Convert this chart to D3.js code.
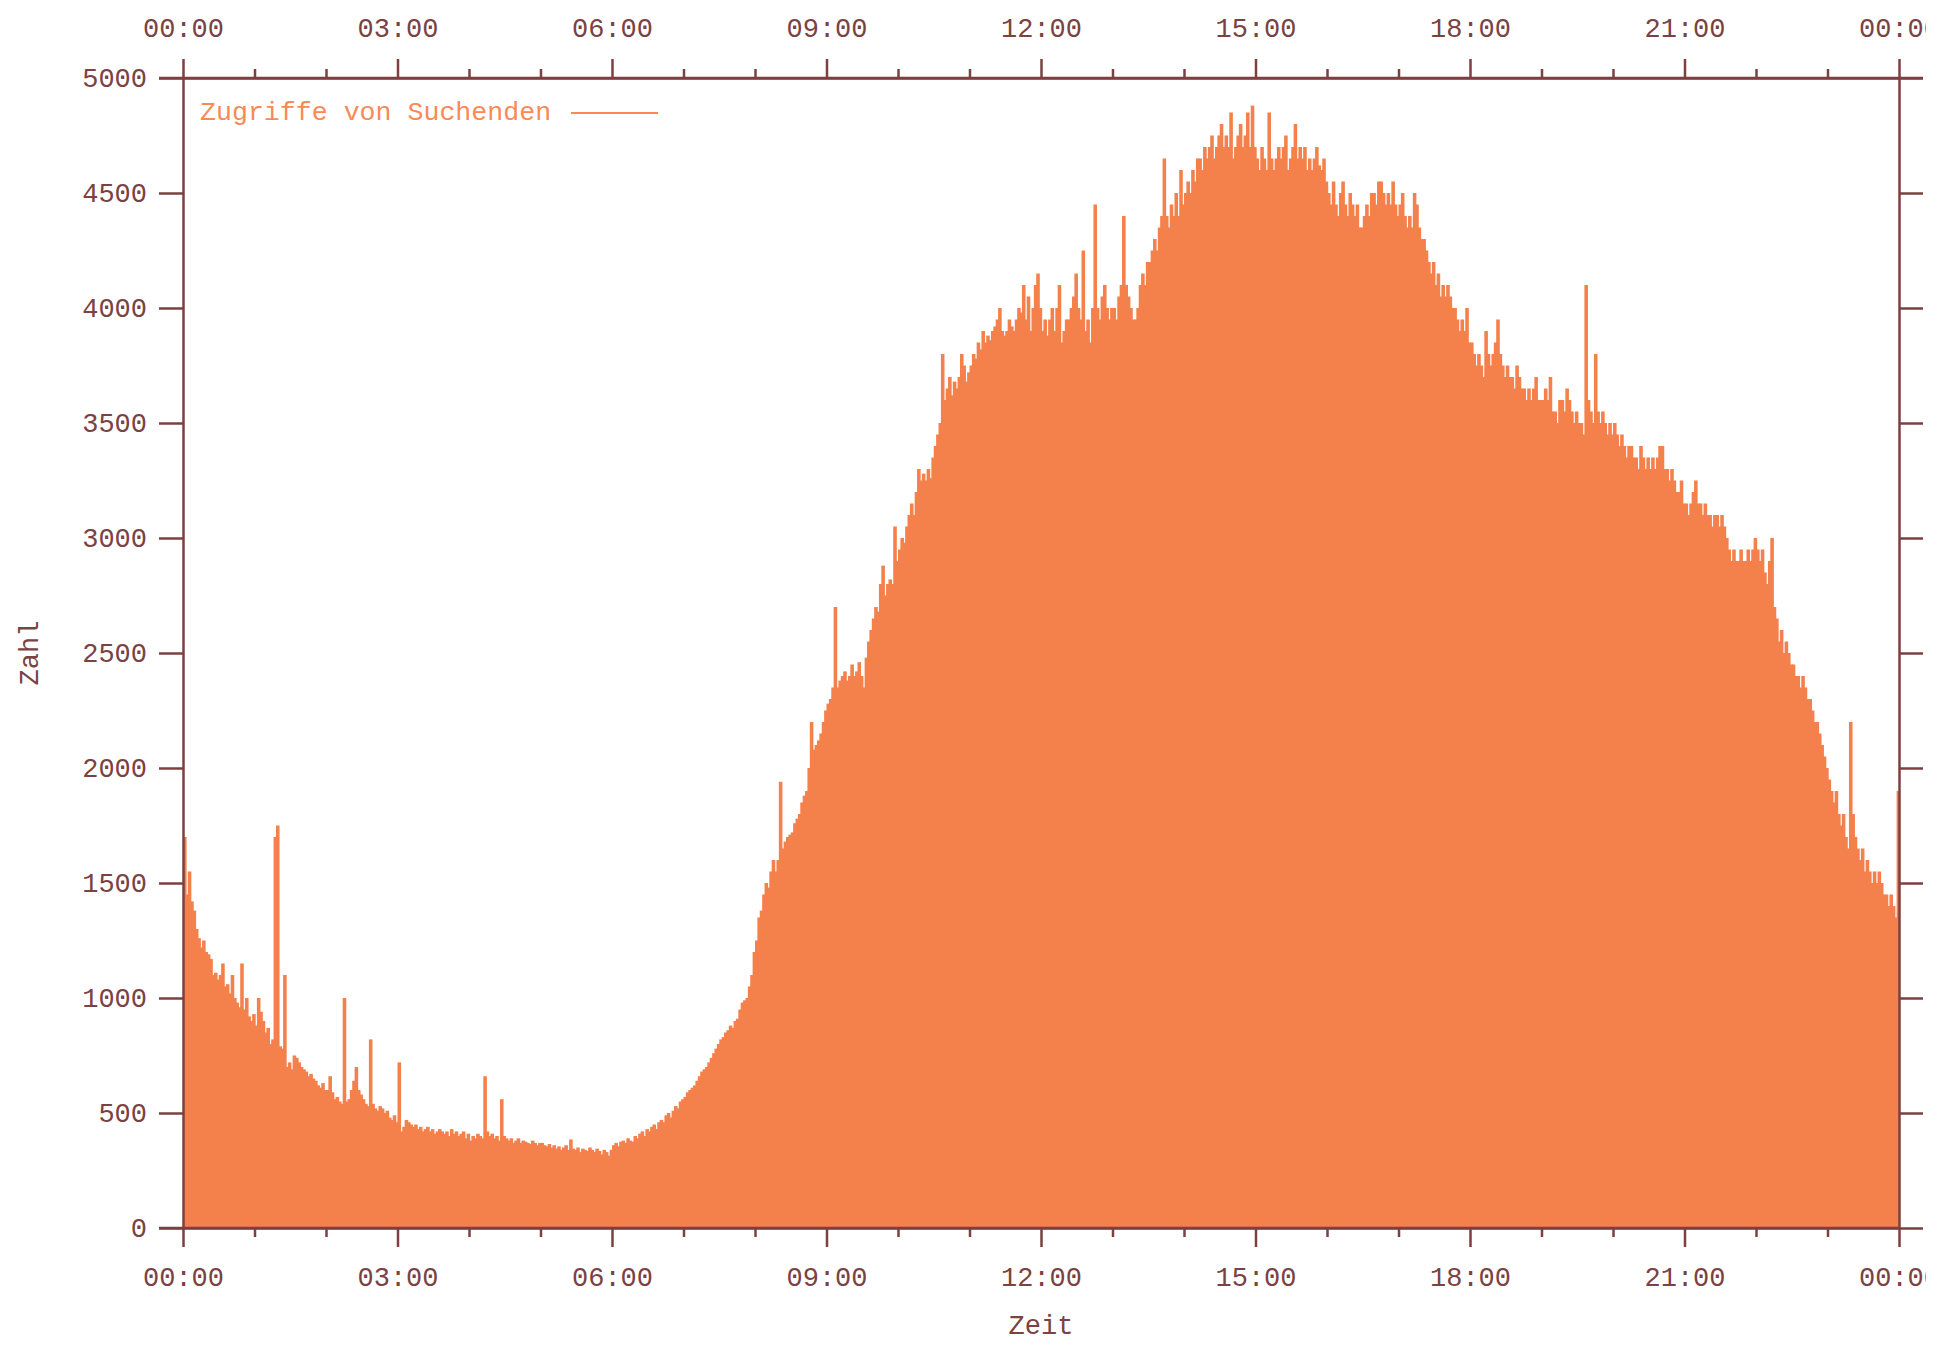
<!DOCTYPE html>
<html>
<head>
<meta charset="utf-8">
<script src="https://cdn.jsdelivr.net/npm/d3@7"></script>
<style>
  html, body { margin: 0; padding: 0; background: #ffffff; }
  svg { display: block; }
  text { font-family: "Liberation Mono", "DejaVu Sans Mono", monospace; }
</style>
</head>
<body>
<svg id="chart" width="1926" height="1350"></svg>
<script>
// ---- data: requests per 2-minute interval, one row per hour ----
const binMinutes = 2;
const hour00 = [1700,1450,1550,1420,1380,1300,1260,1220,1250,1200,1190,1170,1100,1110,1080,1100,1150,1050,1060,1020,1100,1000,980,960,1150,950,1000,920,900,930];
const hour01 = [880,1000,940,900,850,870,800,820,1700,1750,790,780,1100,700,720,690,750,740,720,700,690,680,660,670,650,640,620,610,630,600];
const hour02 = [600,660,590,560,570,550,540,1000,550,560,600,640,700,600,580,560,540,530,820,540,520,510,530,520,500,510,480,470,490,460];
const hour03 = [720,420,440,470,460,450,440,450,430,440,420,430,440,420,430,410,420,430,420,410,420,400,430,410,420,400,410,420,390,410];
const hour04 = [380,400,390,410,400,390,660,420,400,410,390,400,380,560,400,390,380,390,370,380,390,370,380,375,370,365,380,370,360,370];
const hour05 = [370,360,355,365,350,360,345,355,340,350,360,340,385,345,340,350,330,345,340,335,350,340,330,345,335,320,340,330,315,340];
const hour06 = [360,370,355,375,380,370,390,380,375,400,390,410,420,400,430,420,440,450,430,460,470,460,490,500,480,510,530,520,550,560];
const hour07 = [570,590,600,610,620,640,660,680,690,700,720,740,760,780,800,820,830,850,860,880,870,900,910,950,980,990,1000,1050,1100,1200];
const hour08 = [1250,1350,1380,1450,1500,1480,1550,1600,1550,1600,1940,1650,1680,1700,1710,1720,1760,1780,1800,1850,1880,1900,2000,2200,2080,2100,2120,2150,2200,2250];
const hour09 = [2280,2300,2350,2700,2350,2380,2400,2420,2380,2400,2450,2400,2420,2460,2400,2350,2480,2550,2600,2650,2700,2680,2800,2880,2750,2800,2820,2800,3050,2900];
const hour10 = [2950,3000,2980,3050,3100,3150,3100,3200,3300,3250,3280,3250,3300,3260,3350,3400,3450,3500,3800,3600,3650,3700,3620,3680,3650,3700,3800,3750,3680,3720];
const hour11 = [3750,3800,3780,3850,3820,3900,3850,3880,3860,3900,3920,3950,4000,3900,3880,3900,3950,3920,3900,3950,4000,3980,4100,3950,4050,3900,4000,4100,4150,4000];
const hour12 = [3900,3950,3880,3950,4000,3900,4000,4100,3850,3900,3950,3950,4000,4050,4150,4000,3950,4250,3900,3950,3850,4000,4450,4000,3950,4050,4100,4000,3950,4000];
const hour13 = [4000,3950,4050,4100,4400,4100,4050,4000,3950,3950,4000,4100,4150,4100,4200,4200,4250,4300,4250,4350,4400,4650,4400,4350,4450,4400,4500,4400,4600,4450];
const hour14 = [4500,4550,4500,4600,4550,4650,4650,4600,4700,4650,4700,4750,4650,4700,4750,4800,4700,4750,4700,4850,4650,4700,4750,4800,4700,4750,4850,4700,4880,4700];
const hour15 = [4650,4600,4700,4650,4600,4850,4650,4600,4650,4700,4650,4700,4750,4600,4650,4700,4800,4650,4700,4650,4700,4600,4650,4600,4650,4700,4620,4600,4650,4550];
const hour16 = [4500,4450,4550,4450,4400,4500,4550,4450,4400,4500,4450,4400,4450,4350,4350,4400,4450,4400,4500,4500,4450,4550,4550,4500,4450,4500,4450,4550,4450,4400];
const hour17 = [4450,4500,4400,4350,4400,4350,4500,4450,4350,4300,4300,4250,4200,4150,4200,4100,4150,4050,4100,4050,4100,4050,4000,4000,3950,3900,3950,3900,4000,3850];
const hour18 = [3850,3800,3750,3800,3750,3700,3900,3800,3750,3800,3850,3950,3800,3750,3700,3750,3700,3700,3650,3750,3700,3650,3650,3600,3650,3600,3650,3700,3600,3600];
const hour19 = [3600,3650,3600,3700,3550,3550,3500,3600,3600,3550,3650,3600,3550,3500,3550,3500,3500,3450,4100,3600,3550,3500,3800,3550,3500,3550,3500,3450,3500,3450];
const hour20 = [3500,3450,3400,3450,3400,3350,3400,3400,3350,3350,3300,3400,3350,3300,3350,3300,3350,3300,3350,3400,3400,3300,3300,3250,3300,3250,3200,3200,3250,3150];
const hour21 = [3150,3100,3150,3200,3250,3150,3150,3100,3150,3100,3100,3050,3100,3100,3050,3100,3050,3000,2950,2900,2950,2900,2900,2950,2900,2900,2950,2900,2950,3000];
const hour22 = [2950,2900,2950,2850,2800,2900,3000,2700,2650,2550,2600,2500,2550,2500,2450,2450,2400,2400,2350,2400,2350,2300,2300,2250,2200,2200,2150,2100,2050,2000];
const hour23 = [1950,1900,1850,1900,1800,1750,1800,1700,1650,2200,1800,1700,1650,1600,1650,1550,1600,1550,1500,1550,1500,1550,1500,1450,1450,1400,1450,1400,1350,1900];

const yTicks = [0,500,1000,1500,2000,2500,3000,3500,4000,4500,5000];
const xMajorHours = [0,3,6,9,12,15,18,21,24];
const xMinorHours = [1,2,4,5,7,8,10,11,13,14,16,17,19,20,22,23];
const seriesName = "Zugriffe von Suchenden";
const xTitle = "Zeit";
const yTitle = "Zahl";

const counts = [].concat(hour00,hour01,hour02,hour03,hour04,hour05,hour06,hour07,hour08,hour09,hour10,hour11,
  hour12,hour13,hour14,hour15,hour16,hour17,hour18,hour19,hour20,hour21,hour22,hour23);
const data = counts.map((v, i) => ({ minute: i * binMinutes, value: v }));

// ---- layout ----
const L = 183, R = 1899, T = 78, B = 1228;
const axisColor = "#7d3f3f";
const textColor = "#7a4242";
const barColor = "#f4804c";
const legendColor = "#f98a55";
const fontSize = 27;

const svg = d3.select("#chart");
const x = d3.scaleLinear().domain([0, 1440]).range([L, R]);
const y = d3.scaleLinear().domain([0, 5000]).range([B, T]);

// bars (slightly overlapping so no seams show)
svg.append("g").selectAll("rect").data(data).join("rect")
  .attr("x", d => x(d.minute))
  .attr("width", (d, i) => i === data.length - 1
      ? x(d.minute + binMinutes) - x(d.minute)
      : x(d.minute + binMinutes) - x(d.minute) + 1.2)
  .attr("y", d => y(d.value))
  .attr("height", d => y(0) - y(d.value))
  .attr("fill", barColor);

const fmtHour = h => String(h % 24).padStart(2, "0") + ":00";

// axes
function styleAxis(g) {
  g.selectAll("path.domain").attr("stroke", axisColor).attr("stroke-width", 2.5);
  g.selectAll(".tick line").attr("stroke", axisColor).attr("stroke-width", 2.5);
  g.selectAll(".tick text").attr("fill", textColor)
    .style("font-family", '"Liberation Mono", "DejaVu Sans Mono", monospace')
    .style("font-size", fontSize + "px");
}

const xMajor = xMajorHours.map(h => h * 60);
const xMinor = xMinorHours.map(h => h * 60);

// bottom
const gB = svg.append("g").attr("transform", `translate(0,${B})`)
  .call(d3.axisBottom(x).tickValues(xMajor).tickFormat(m => fmtHour(m / 60)).tickSize(19).tickPadding(20).tickSizeOuter(0));
styleAxis(gB);
svg.append("g").attr("transform", `translate(0,${B})`)
  .call(d3.axisBottom(x).tickValues(xMinor).tickFormat("").tickSize(9).tickSizeOuter(0))
  .call(g => { g.select("path.domain").remove(); styleAxis(g); });

// top
const gT = svg.append("g").attr("transform", `translate(0,${T})`)
  .call(d3.axisTop(x).tickValues(xMajor).tickFormat(m => fmtHour(m / 60)).tickSize(19).tickPadding(22).tickSizeOuter(0));
styleAxis(gT);
svg.append("g").attr("transform", `translate(0,${T})`)
  .call(d3.axisTop(x).tickValues(xMinor).tickFormat("").tickSize(9).tickSizeOuter(0))
  .call(g => { g.select("path.domain").remove(); styleAxis(g); });

// left
const gL = svg.append("g").attr("transform", `translate(${L},0)`)
  .call(d3.axisLeft(y).tickValues(yTicks).tickFormat(d3.format("d")).tickSize(24).tickPadding(12).tickSizeOuter(0));
styleAxis(gL);

// right
const gR = svg.append("g").attr("transform", `translate(${R},0)`)
  .call(d3.axisRight(y).tickValues(yTicks).tickFormat("").tickSize(24).tickSizeOuter(0));
styleAxis(gR);

// frame lines (extend corners)
svg.append("line").attr("x1", L - 24).attr("x2", R + 24).attr("y1", T).attr("y2", T)
  .attr("stroke", axisColor).attr("stroke-width", 2.5);
svg.append("line").attr("x1", L - 24).attr("x2", R).attr("y1", B).attr("y2", B)
  .attr("stroke", axisColor).attr("stroke-width", 2.5);

// titles
svg.append("text").attr("x", (L + R) / 2).attr("y", 1327)
  .attr("text-anchor", "middle").attr("dominant-baseline", "central")
  .attr("fill", textColor).style("font-size", fontSize + "px").text(xTitle);
svg.append("text").attr("transform", `translate(31,${(T + B) / 2}) rotate(-90)`)
  .attr("text-anchor", "middle").attr("dominant-baseline", "central")
  .attr("fill", textColor).style("font-size", fontSize + "px").text(yTitle);

// legend
svg.append("text").attr("x", 200).attr("y", 113)
  .attr("dominant-baseline", "central")
  .attr("fill", legendColor).style("font-size", "26.6px").text(seriesName);
svg.append("line").attr("x1", 571).attr("x2", 658).attr("y1", 113).attr("y2", 113)
  .attr("stroke", legendColor).attr("stroke-width", 2);
</script>
</body>
</html>
